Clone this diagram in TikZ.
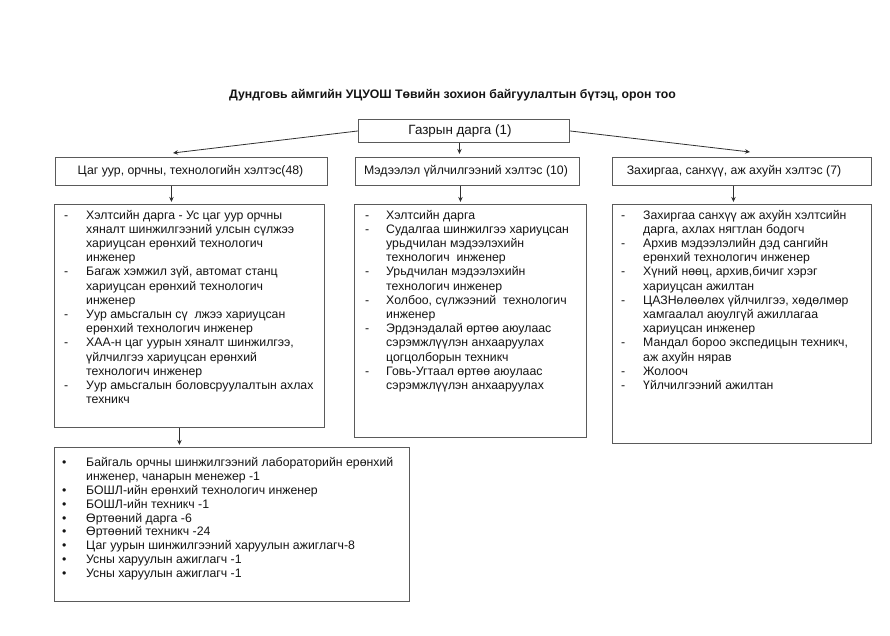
\documentclass[tikz,border=0pt]{standalone}
\usepackage{fontspec}
\setmainfont{Liberation Sans}
\usetikzlibrary{arrows.meta}
\definecolor{boxgray}{HTML}{5A5A5A}
\definecolor{linegray}{HTML}{303030}
\definecolor{txt}{HTML}{141414}
\begin{document}
\begin{tikzpicture}[x=1pt,y=-1pt,
  box/.style={draw=boxgray,line width=0.9pt,inner sep=0pt,anchor=north west},
  lbl/.style={font=\fontsize{12.3}{14}\selectfont,text=txt,inner sep=0pt},
  lst/.style={font=\fontsize{12.3}{14.2}\selectfont,text=txt,inner sep=0pt,anchor=north west,align=left},
  lstb/.style={font=\fontsize{12.3}{13.8}\selectfont,text=txt,inner sep=0pt,anchor=north west,align=left},
  arr/.style={draw=linegray,line width=0.8pt,-{Stealth[length=5pt,width=4.5pt]}}]
\useasboundingbox (0,0) rectangle (890,635);
% title
\node[font=\bfseries\fontsize{12.3}{14}\selectfont,text=txt,inner sep=0pt] (title) at (452.5,95) {Дундговь аймгийн УЦУОШ Төвийн зохион байгуулалтын бүтэц, орон тоо};
% boxes
\node[box,minimum width=211pt,minimum height=23pt] (top) at (358,119) {};
\node[lbl,font=\fontsize{13.4}{15}\selectfont] (topt) at (460,131) {Газрын дарга (1)};
\node[box,minimum width=272pt,minimum height=28pt] (L1) at (55,157) {};
\node[lbl] (L1t) at (190.5,171) {Цаг уур, орчны, технологийн хэлтэс(48)};
\node[box,minimum width=224pt,minimum height=28pt] (M1) at (355,157) {};
\node[lbl] (M1t) at (466,171) {Мэдээлэл үйлчилгээний хэлтэс (10)};
\node[box,minimum width=259pt,minimum height=28pt] (R1) at (612,157) {};
\node[lbl] (R1t) at (734,171) {Захиргаа, санхүү, аж ахуйн хэлтэс (7)};
\node[box,minimum width=270pt,minimum height=223pt] (L2) at (54,204) {};
\node[box,minimum width=232pt,minimum height=233pt] (M2) at (354,204) {};
\node[box,minimum width=259pt,minimum height=239pt] (R2) at (612,204) {};
\node[box,minimum width=355pt,minimum height=154pt] (L3) at (54,447) {};
% lists
\node[lst] (L2t) at (64,209) {\begin{tabular}{@{}p{22pt}@{}l@{}}
-&Хэлтсийн дарга - Ус цаг уур орчны\\
&хяналт шинжилгээний улсын сүлжээ\\
&хариуцсан ерөнхий технологич\\
&инженер\\
-&Багаж хэмжил зүй, автомат станц\\
&хариуцсан ерөнхий технологич\\
&инженер\\
-&Уур амьсгалын сү\ \ лжээ хариуцсан\\
&ерөнхий технологич инженер\\
-&ХАА-н цаг уурын хяналт шинжилгээ,\\
&үйлчилгээ хариуцсан ерөнхий\\
&технологич инженер\\
-&Уур амьсгалын боловсруулалтын ахлах\\
&техникч
\end{tabular}};
\node[lst] (M2t) at (365,209) {\begin{tabular}{@{}p{21pt}@{}l@{}}
-&Хэлтсийн дарга\\
-&Судалгаа шинжилгээ хариуцсан\\
&урьдчилан мэдээлэхийн\\
&технологич\ \ инженер\\
-&Урьдчилан мэдээлэхийн\\
&технологич инженер\\
-&Холбоо, сүлжээний\ \ технологич\\
&инженер\\
-&Эрдэнэдалай өртөө аюулаас\\
&сэрэмжлүүлэн анхааруулах\\
&цогцолборын техникч\\
-&Говь-Угтаал өртөө аюулаас\\
&сэрэмжлүүлэн анхааруулах
\end{tabular}};
\node[lst] (R2t) at (621,209) {\begin{tabular}{@{}p{22pt}@{}l@{}}
-&Захиргаа санхүү аж ахуйн хэлтсийн\\
&дарга, ахлах нягтлан бодогч\\
-&Архив мэдээлэлийн дэд сангийн\\
&ерөнхий технологич инженер\\
-&Хүний нөөц, архив,бичиг хэрэг\\
&хариуцсан ажилтан\\
-&ЦАЗНөлөөлөх үйлчилгээ, хөдөлмөр\\
&хамгаалал аюулгүй ажиллагаа\\
&хариуцсан инженер\\
-&Мандал бороо экспедицын техникч,\\
&аж ахуйн нярав\\
-&Жолооч\\
-&Үйлчилгээний ажилтан
\end{tabular}};
\node[lstb] (L3t) at (62,457) {\begin{tabular}{@{}p{24pt}@{}l@{}}
•&Байгаль орчны шинжилгээний лабораторийн ерөнхий\\
&инженер, чанарын менежер -1\\
•&БОШЛ-ийн ерөнхий технологич инженер\\
•&БОШЛ-ийн техникч -1\\
•&Өртөөний дарга -6\\
•&Өртөөний техникч -24\\
•&Цаг уурын шинжилгээний харуулын ажиглагч-8\\
•&Усны харуулын ажиглагч -1\\
•&Усны харуулын ажиглагч -1
\end{tabular}};
% connectors
\coordinate (aL) at (173,153);
\coordinate (aR) at (750,152);
\draw[arr] (top.west) -- (aL);
\draw[arr] (top.east) -- (aR);
\draw[arr] ([xshift=-4.5pt]top.south) -- ++(0,11);
\draw[arr] ([xshift=-20pt]L1.south) -- ++(0,16);
\draw[arr] ([xshift=-7pt]M1.south) -- ++(0,16);
\draw[arr] ([xshift=-8.5pt]R1.south) -- ++(0,16);
\draw[arr] ([xshift=-10pt]L2.south) -- ++(0,17);
\end{tikzpicture}
\end{document}
